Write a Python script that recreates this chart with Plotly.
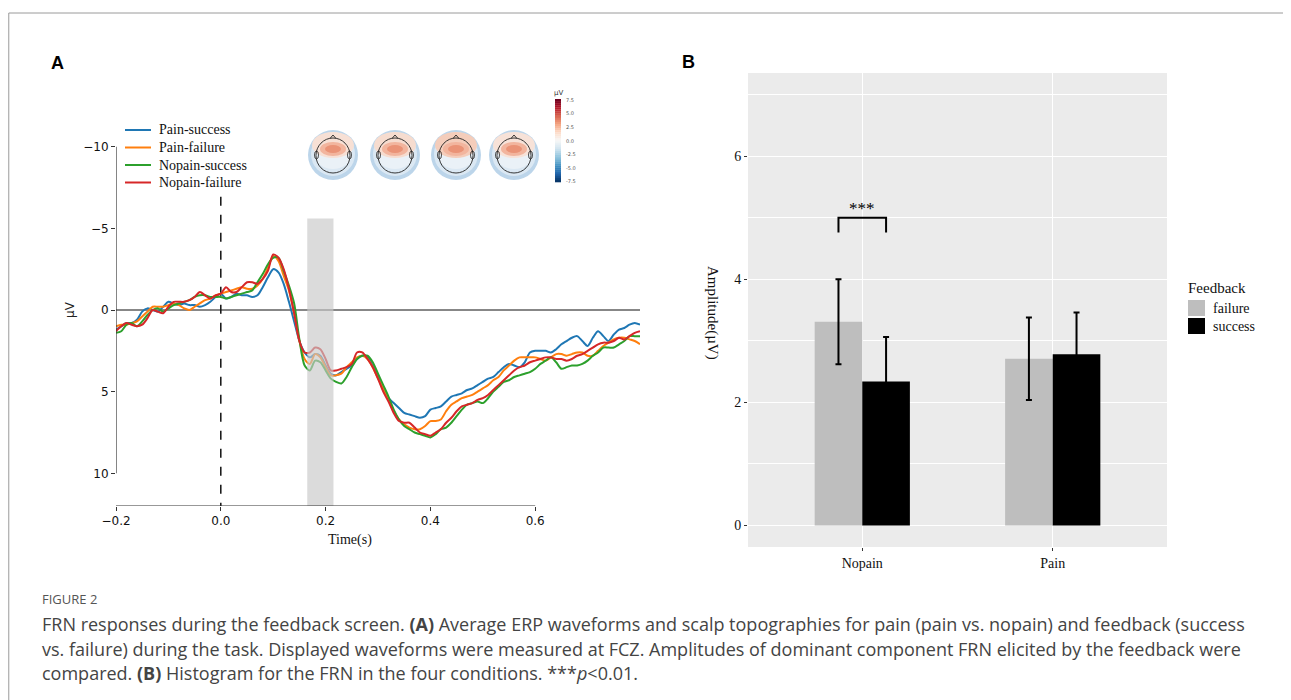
import plotly.graph_objects as go

W, H = 1291, 700
OFF = 8  # page body margin of the html page

# ---------------- Panel A data (ERP waveforms at FCZ) ----------------
time_s = [round(-0.2 + 0.01 * i, 2) for i in range(101)]

pain_success = [
    1.2, 1.0, 0.8, 0.8, 0.6, 0.1, -0.1, 0.0, 0.1, -0.2,
    -0.5, -0.4, -0.3, -0.4, -0.3, -0.3, -0.2, -0.3, -0.5, -0.8,
    -1.0, -0.7, -0.8, -1.0, -0.9, -0.9, -0.8, -0.9, -1.4, -2.0,
    -2.5, -2.3, -1.6, -0.5, 0.7, 1.9, 2.6, 2.9, 2.7, 2.8,
    3.4, 3.9, 4.0, 3.8, 3.6, 3.4, 3.0, 2.8, 2.9, 3.4,
    4.1, 4.9, 5.4, 5.7, 6.0, 6.3, 6.4, 6.5, 6.6, 6.5,
    6.1, 6.0, 5.9, 5.6, 5.3, 5.2, 5.1, 4.9, 4.8, 4.6,
    4.4, 4.2, 4.1, 3.8, 3.5, 3.3, 3.4, 3.5, 3.2, 2.6,
    2.5, 2.5, 2.5, 2.6, 2.4, 2.1, 1.9, 1.7, 1.6, 1.9,
    2.2, 1.7, 1.3, 1.6, 1.9, 1.5, 1.2, 1.1, 0.9, 0.8,
    0.9,
]
pain_failure = [
    1.0, 0.9, 0.9, 0.8, 0.7, 0.4, 0.1, -0.2, -0.2, -0.2,
    -0.3, -0.4, -0.3, -0.1, 0.0, -0.2, -0.4, -0.6, -0.7, -0.9,
    -1.0, -1.1, -1.2, -1.3, -1.4, -1.3, -1.3, -1.5, -1.9, -2.6,
    -3.3, -3.0, -2.1, -1.2, 0.2, 1.9, 3.0, 3.3, 2.7, 2.9,
    3.5, 4.0, 4.0, 3.9, 3.5, 3.2, 2.9, 2.8, 3.0, 3.5,
    4.2, 4.8, 5.5, 6.2, 6.7, 7.0, 7.2, 7.3, 7.3, 7.1,
    6.8, 6.8, 6.7, 6.2, 5.8, 5.6, 5.4, 5.3, 5.2, 5.0,
    4.8, 4.6, 4.3, 4.1, 3.7, 3.4, 3.1, 2.9, 2.9, 2.9,
    2.9, 3.0, 3.1, 2.9, 2.7, 2.7, 2.8, 2.7, 2.6, 2.6,
    2.8, 2.8, 2.5, 2.2, 2.0, 1.8, 1.7, 1.7, 1.8, 1.9,
    2.1,
]
nopain_success = [
    1.4, 1.3, 0.9, 0.8, 1.0, 0.7, 0.3, 0.0, -0.1, 0.1,
    -0.1, -0.3, -0.4, -0.5, -0.6, -0.8, -0.9, -0.9, -0.8, -0.8,
    -0.8, -0.7, -0.8, -0.9, -1.0, -1.1, -1.2, -1.7, -2.2, -2.8,
    -3.2, -3.2, -2.4, -1.5, -0.4, 1.8, 3.4, 3.7, 3.1, 3.2,
    3.7, 4.2, 4.4, 4.5, 4.1, 3.5, 3.0, 2.8, 2.8, 3.2,
    3.9, 4.6, 5.3, 6.1, 6.7, 7.1, 7.3, 7.5, 7.6, 7.7,
    7.8, 7.6, 7.3, 7.2, 6.9, 6.5, 6.1, 5.8, 5.7, 5.6,
    5.7, 5.4, 5.0, 4.7, 4.4, 4.3, 4.1, 4.0, 3.9, 3.8,
    3.6, 3.3, 3.1, 2.9, 3.2, 3.6, 3.5, 3.4, 3.4, 3.3,
    3.1, 2.8, 2.6, 2.3, 2.3, 2.3, 2.1, 1.9, 1.6, 1.6,
    1.6,
]
nopain_failure = [
    1.3, 1.0, 0.8, 0.9, 1.0, 0.9, 0.5, 0.0, 0.1, 0.2,
    -0.2, -0.5, -0.5, -0.5, -0.6, -0.8, -1.1, -0.9, -0.7, -0.9,
    -1.0, -1.4, -1.1, -1.1, -1.4, -1.7, -1.7, -1.6, -1.9, -2.4,
    -3.4, -3.2, -2.5, -1.3, 0.2, 1.9, 2.6, 2.6, 2.3, 2.4,
    3.0, 3.7, 3.7, 3.6, 3.5, 3.3, 2.6, 2.6, 3.0, 3.5,
    4.2, 5.0, 5.6, 6.3, 6.8, 6.9, 6.9, 7.2, 7.5, 7.6,
    7.7, 7.5, 7.3, 6.9, 6.6, 6.2, 5.9, 5.8, 5.7, 5.5,
    5.4, 5.2, 4.9, 4.6, 4.3, 4.0, 3.7, 3.5, 3.4, 3.2,
    3.1, 3.0, 2.9, 2.9, 3.0, 3.0, 3.1, 3.0, 2.8, 2.7,
    2.5, 2.3, 2.1, 2.0, 2.0, 1.9, 1.7, 1.8, 1.6, 1.4,
    1.3,
]
series_names = ["Pain-success", "Pain-failure", "Nopain-success", "Nopain-failure"]
series_values = [pain_success, pain_failure, nopain_success, nopain_failure]
series_colors = ["#1f77b4", "#ff7f0e", "#2ca02c", "#d62728"]

a_xticks = [-0.2, 0.0, 0.2, 0.4, 0.6]
a_xticktext = ["\u22120.2", "0.0", "0.2", "0.4", "0.6"]
a_yticks = [-10, -5, 0, 5, 10]
a_yticktext = ["\u221210", "\u22125", "0", "5", "10"]
frn_window = [0.165, 0.215]

cb_ticks = [7.5, 5.0, 2.5, 0.0, -2.5, -5.0, -7.5]
cb_ticktext = ["7.5", "5.0", "2.5", "0.0", "-2.5", "-5.0", "-7.5"]

# ---------------- Panel B data (FRN amplitude) ----------------
categories = ["Nopain", "Pain"]
feedback_levels = ["failure", "success"]
failure_mean = [3.31, 2.71]
failure_err = [0.69, 0.67]
success_mean = [2.34, 2.78]
success_err = [0.72, 0.68]
b_yticks = [0, 2, 4, 6]


def fx(p):
    return (p - OFF) / W


def fy(p):
    return 1 - (p - OFF) / H


def ann(text, x, y, size, family, color="#111", xanchor="center", textangle=0, **kw):
    d = dict(text=text, x=fx(x), y=fy(y), xref="paper", yref="paper", showarrow=False,
             xanchor=xanchor, yanchor="middle", textangle=textangle,
             font=dict(family=family, size=size, color=color))
    d.update(kw)
    return d


fig = go.Figure()

# Panel A waveforms
for name, vals, col in zip(series_names, series_values, series_colors):
    fig.add_trace(go.Scatter(
        x=time_s, y=vals, mode="lines", name=name,
        line=dict(color=col, width=2, shape="spline", smoothing=0.8),
        xaxis="x", yaxis="y", showlegend=False,
    ))

A_X0, A_X1, A_Y0, A_Y1 = 116, 640, 114, 506


def to_t(p):
    return -0.2 + (p - A_X0) / (A_X1 - A_X0) * 1.0


def to_v(p):
    return -12 + (p - A_Y0) / (A_Y1 - A_Y0) * 24.0


shapes = []
annotations = []
serif = "Liberation Serif, Times New Roman, serif"

# ---- topographies (decorative) ----
topo_centers = [333, 395, 456, 514]
topo_cy = 155
warm = ["#f7e0d5", "#f6dccf", "#f4cdbb", "#f7e2d8"]
dots_x, dots_y = [], []


def circ(x0, x1, y0, y1, **kw):
    d = dict(type="circle", xref="paper", yref="paper",
             x0=fx(x0), x1=fx(x1), y0=fy(y1), y1=fy(y0), layer="above")
    d.update(kw)
    return d


for k, cx in enumerate(topo_centers):
    cy = topo_cy
    shapes.append(circ(cx - 25, cx + 25, cy - 25, cy + 25, fillcolor="#bcd5ea", line=dict(width=0)))
    shapes.append(circ(cx - 22, cx + 22, cy - 23, cy + 21, fillcolor="#dbe8f3", line=dict(width=0)))
    shapes.append(circ(cx - 19, cx + 19, cy - 18, cy + 14, fillcolor="#eaf1f7", line=dict(width=0)))
    shapes.append(circ(cx - 21, cx + 21, cy - 23, cy + 3, fillcolor=warm[k], line=dict(width=0)))
    shapes.append(circ(cx - 13, cx + 13, cy - 13, cy + 1, fillcolor="#f2b59e", line=dict(width=0)))
    shapes.append(circ(cx - 8, cx + 8, cy - 10, cy - 2, fillcolor="#ea9377", line=dict(width=0)))
    shapes.append(circ(cx - 17, cx + 17, cy - 17, cy + 18, line=dict(color="#222", width=0.9)))
    shapes.append(dict(type="path", xref="paper", yref="paper",
                       path=f"M {fx(cx - 3)},{fy(cy - 16.5)} L {fx(cx)},{fy(cy - 20)} L {fx(cx + 3)},{fy(cy - 16.5)}",
                       line=dict(color="#222", width=0.9), layer="above"))
    for side in (-1, 1):
        shapes.append(circ(cx + side * 16.5 - 2, cx + side * 16.5 + 2, cy - 4, cy + 4,
                           line=dict(color="#222", width=0.8)))
    for dy in (-10, -6, -2, 2, 6, 10):
        for dx in (-12, -8, -4, 0, 4, 8, 12):
            if dx * dx + dy * dy < 14.5 ** 2:
                dots_x.append(to_t(cx + dx))
                dots_y.append(to_v(cy + dy))

fig.add_trace(go.Scatter(x=dots_x, y=dots_y, mode="markers",
                         marker=dict(size=1.8, color="#444"),
                         showlegend=False, hoverinfo="skip", xaxis="x", yaxis="y"))

# ---- manual colorbar (RdBu_r) ----
rdbu_r = ["#053061", "#2166ac", "#4393c3", "#92c5de", "#d1e5f0", "#f7f7f7",
          "#fddbc7", "#f4a582", "#d6604d", "#b2182b", "#67001f"]


def hex2rgb(h):
    return tuple(int(h[i:i + 2], 16) for i in (1, 3, 5))


CB_X0, CB_X1, CB_Y0, CB_Y1 = 555, 561, 99, 182
n_slices = 40
for i in range(n_slices):
    f = 1 - (i + 0.5) / n_slices  # top = high value
    pos = f * (len(rdbu_r) - 1)
    j = min(int(pos), len(rdbu_r) - 2)
    r = pos - j
    c0, c1 = hex2rgb(rdbu_r[j]), hex2rgb(rdbu_r[j + 1])
    col = "rgb(%d,%d,%d)" % tuple(round(a + (b - a) * r) for a, b in zip(c0, c1))
    ya = CB_Y0 + i * (CB_Y1 - CB_Y0) / n_slices
    yb = CB_Y0 + (i + 1) * (CB_Y1 - CB_Y0) / n_slices
    shapes.append(dict(type="rect", xref="paper", yref="paper",
                       x0=fx(CB_X0), x1=fx(CB_X1), y0=fy(yb + 0.3), y1=fy(ya),
                       fillcolor=col, line=dict(width=0), layer="above"))
for v, txt in zip(cb_ticks, cb_ticktext):
    py = CB_Y0 + (7.5 - v) / 15.0 * (CB_Y1 - CB_Y0)
    py = min(max(py, CB_Y0 + 1.5), CB_Y1 - 1.5)
    annotations.append(ann(txt, 564, py, 5, "DejaVu Sans", color="#555", xanchor="left"))
annotations.append(ann("\u00b5V", 558, 93, 7, "DejaVu Sans", color="#333"))

# ---- panel A legend (custom) ----
leg_y = [130, 147.5, 165, 182.5]
for name, col, yy in zip(series_names, series_colors, leg_y):
    shapes.append(dict(type="line", xref="paper", yref="paper", x0=fx(125), x1=fx(151),
                       y0=fy(yy), y1=fy(yy), line=dict(color=col, width=2)))
    annotations.append(ann(name, 157, yy, 14, serif, xanchor="left"))

# Panel A reference lines / spines
shapes += [
    dict(type="line", xref="x", yref="y", x0=-0.2, x1=0.8, y0=0, y1=0,
         line=dict(color="#111", width=1.1), layer="below"),
    dict(type="line", xref="x", yref="y", x0=0, x1=0, y0=-6.93, y1=12,
         line=dict(color="#111", width=1.5, dash="dash"), layer="below"),
    dict(type="rect", xref="x", yref="y", x0=frn_window[0], x1=frn_window[1], y0=-5.6, y1=12,
         fillcolor="rgb(200,200,200)", opacity=0.65, line=dict(width=0), layer="above"),
    dict(type="line", xref="x", yref="y", x0=-0.2, x1=-0.2, y0=-10, y1=10,
         line=dict(color="#333", width=1.2), layer="above"),
    dict(type="line", xref="x", yref="y", x0=-0.2, x1=0.6, y0=12, y1=12,
         line=dict(color="#333", width=1.2), layer="above"),
]

# Panel B bars
fig.add_trace(go.Bar(
    x=categories, y=failure_mean, name=feedback_levels[0],
    marker=dict(color="#BEBEBE", line=dict(width=0)),
    error_y=dict(type="data", array=failure_err, color="black", thickness=2, width=3),
    xaxis="x2", yaxis="y2", showlegend=False))
fig.add_trace(go.Bar(
    x=categories, y=success_mean, name=feedback_levels[1],
    marker=dict(color="#000000", line=dict(width=0)),
    error_y=dict(type="data", array=success_err, color="black", thickness=2, width=3),
    xaxis="x2", yaxis="y2", showlegend=False))

shapes += [
    dict(type="rect", xref="x2 domain", yref="y2 domain", x0=0, x1=1, y0=0, y1=1,
         fillcolor="#EBEBEB", line=dict(width=0), layer="below"),
    dict(type="path", xref="x2", yref="y2",
         path="M -0.125,4.76 L -0.125,5.0 L 0.125,5.0 L 0.125,4.76",
         line=dict(color="black", width=2), layer="above"),
    # outer frame
    dict(type="line", xref="paper", yref="paper", x0=0.0006, x1=1, y0=fy(13), y1=fy(13),
         line=dict(color="#9a9a9a", width=1)),
    dict(type="line", xref="paper", yref="paper", x0=0.0006, x1=0.0006, y0=fy(13), y1=0,
         line=dict(color="#9a9a9a", width=1)),
]

# panel B legend (custom)
annotations.append(ann("Feedback", 1186, 288, 15, serif, xanchor="left"))
for lvl, col, (ya, yb) in zip(feedback_levels, ["#BEBEBE", "#000000"], [(300, 316), (318, 334)]):
    shapes.append(dict(type="rect", xref="paper", yref="paper", x0=fx(1188), x1=fx(1205),
                       y0=fy(yb), y1=fy(ya), fillcolor=col, line=dict(width=0)))
    annotations.append(ann(lvl, 1211, (ya + yb) / 2, 14, serif, xanchor="left"))

cap_font = "Open Sans, Noto Sans, sans-serif"
annotations += [
    ann("<b>A</b>", 57, 63, 18, "Liberation Sans, Arial", color="black"),
    ann("<b>B</b>", 688, 62, 18, "Liberation Sans, Arial", color="black"),
    ann("\u00b5V", 70, 310, 12, "DejaVu Sans", color="#222", textangle=-90),
    ann("Time(s)", 350, 540, 14, serif),
    ann("Amplitude(\u00b5V)", 713, 313, 15, serif, textangle=90),
    dict(text="***", x=0, y=5.0, xref="x2", yref="y2", showarrow=False, xanchor="center",
         yanchor="bottom", yshift=-2, font=dict(family=serif, size=17, color="black")),
    ann("FIGURE 2", 40, 599, 13, cap_font, color="#555", xanchor="left"),
    ann("FRN responses during the feedback screen. <b>(A)</b> Average ERP waveforms and scalp "
        "topographies for pain (pain vs. nopain) and feedback (success",
        40, 624, 18, cap_font, color="#444", xanchor="left"),
    ann("vs. failure) during the task. Displayed waveforms were measured at FCZ. Amplitudes of "
        "dominant component FRN elicited by the feedback were",
        40, 649, 18, cap_font, color="#444", xanchor="left"),
    ann("compared. <b>(B)</b> Histogram for the FRN in the four conditions. ***<i>p</i>&lt;0.01.",
        40, 673, 18, cap_font, color="#444", xanchor="left"),
]

fig.update_layout(
    width=W, height=H, margin=dict(l=0, r=0, t=0, b=0, autoexpand=False),
    paper_bgcolor="white", plot_bgcolor="rgba(0,0,0,0)",
    bargap=0.5, bargroupgap=0, barmode="group", showlegend=False,
    xaxis=dict(domain=[fx(A_X0), fx(A_X1)], range=[-0.2, 0.8], anchor="y", automargin=False,
               tickvals=a_xticks, ticktext=a_xticktext, ticks="outside", ticklen=4,
               tickcolor="#333", showgrid=False, zeroline=False, showline=False,
               tickfont=dict(family="DejaVu Sans", size=12, color="#111")),
    yaxis=dict(domain=[fy(A_Y1), fy(A_Y0)], range=[12, -12], anchor="x", automargin=False,
               tickvals=a_yticks, ticktext=a_yticktext, ticks="outside", ticklen=4,
               tickcolor="#333", showgrid=False, zeroline=False, showline=False,
               tickfont=dict(family="DejaVu Sans", size=12, color="#111")),
    xaxis2=dict(domain=[fx(748), fx(1167)], range=[-0.6, 1.6], anchor="y2", type="category",
                automargin=False, ticks="outside", ticklen=3, tickcolor="#333",
                showgrid=True, gridcolor="white", gridwidth=1.4, zeroline=False, showline=False,
                tickfont=dict(family=serif, size=14, color="#111")),
    yaxis2=dict(domain=[fy(547), fy(73)], range=[-0.35, 7.35], anchor="x2", automargin=False,
                tickvals=b_yticks, ticks="outside", ticklen=3, tickcolor="#333",
                showgrid=True, gridcolor="white", gridwidth=1.4, zeroline=False, showline=False,
                minor=dict(tickvals=[1, 3, 5, 7], showgrid=True, gridcolor="white", gridwidth=0.7,
                           ticks=""),
                tickfont=dict(family=serif, size=14, color="#111")),
    shapes=shapes, annotations=annotations,
)

fig.write_html("out.html")
